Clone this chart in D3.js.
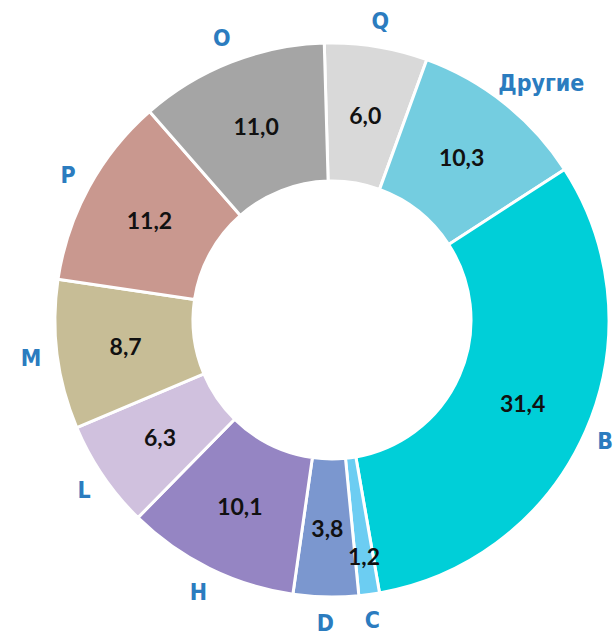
<!DOCTYPE html>
<html>
<head>
<meta charset="utf-8">
<script src="https://cdn.jsdelivr.net/npm/d3@7"></script>
<style>
  body { margin: 0; background: #fff; }
  svg { display: block; }
</style>
</head>
<body>
<svg width="614" height="635"></svg>
<script>
const svg = d3.select('svg')
const width = 614, height = 635;

// data, clockwise from the top
const categories = ['Q', 'Другие', 'B', 'C', 'D', 'H', 'L', 'M', 'P', 'O'];
const values = [6.0, 10.3, 31.4, 1.2, 3.8, 10.1, 6.3, 8.7, 11.2, 11.0];
const valueLabels = ['6,0', '10,3', '31,4', '1,2', '3,8', '10,1', '6,3', '8,7', '11,2', '11,0'];
const colors = ['#d9d9d9', '#74cde0', '#00cfd8', '#6ccdf2', '#7b97cf', '#9585c3',
                '#d0c1de', '#c7bd96', '#c9988f', '#a5a5a5'];

const cx = 332, cy = 320;
const outerR = 277, innerR = 139;
const startDeg = -1.6;

const rows = categories.map((c, i) => ({ name: c, value: values[i], label: valueLabels[i], color: colors[i] }));

const pie = d3.pie()
  .value(d => d.value)
  .sort(null)
  .startAngle(startDeg * Math.PI / 180)
  .endAngle((startDeg + 360) * Math.PI / 180);

const arc = d3.arc().innerRadius(innerR).outerRadius(outerR);
const arcs = pie(rows);

const g = svg.append('g').attr('transform', `translate(${cx},${cy})`);

g.selectAll('path.slice')
  .data(arcs)
  .enter().append('path')
    .attr('class', 'slice')
    .attr('d', arc)
    .attr('fill', d => d.data.color)
    .attr('stroke', '#fff')
    .attr('stroke-width', 3)
    .attr('stroke-linejoin', 'round');

// value labels inside the ring (thin slices pushed outward)
const midR = (innerR + outerR) / 2;
const valR = d => d.data.value < 2 ? midR + 30 : midR;
g.selectAll('text.val')
  .data(arcs)
  .enter().append('text')
    .attr('class', 'val')
    .attr('x', d => valR(d) * Math.sin((d.startAngle + d.endAngle) / 2))
    .attr('y', d => -valR(d) * Math.cos((d.startAngle + d.endAngle) / 2))
    .attr('text-anchor', 'middle')
    .attr('dominant-baseline', 'central')
    .style('font-family', 'Lato, "Open Sans", sans-serif')
    .style('font-weight', 700)
    .style('font-size', '23px')
    .style('fill', '#111')
    .text(d => d.data.label);

// category labels outside the ring, kept inside the picture
const labelR = 293;
g.selectAll('text.cat')
  .data(arcs)
  .enter().append('text')
    .attr('class', 'cat')
    .attr('text-anchor', 'middle')
    .attr('dominant-baseline', 'central')
    .style('font-family', '"Liberation Sans Narrow", "DejaVu Sans Condensed", sans-serif')
    .style('font-weight', 700)
    .style('font-size', '23px')
    .style('fill', '#2b7cbf')
    .text(d => d.data.name)
    .each(function(d) {
      const a = (d.startAngle + d.endAngle) / 2;
      const w = this.getComputedTextLength();
      const h = 20;
      let x = labelR * Math.sin(a) + (w / 2) * Math.sin(a);
      let y = -labelR * Math.cos(a) - (h / 2) * Math.cos(a);
      x = Math.min(x, width - cx - w / 2 - 1);
      y = Math.min(y, height - cy - h / 2 - 1);
      d3.select(this).attr('x', x).attr('y', y);
    });
</script>
</body>
</html>
